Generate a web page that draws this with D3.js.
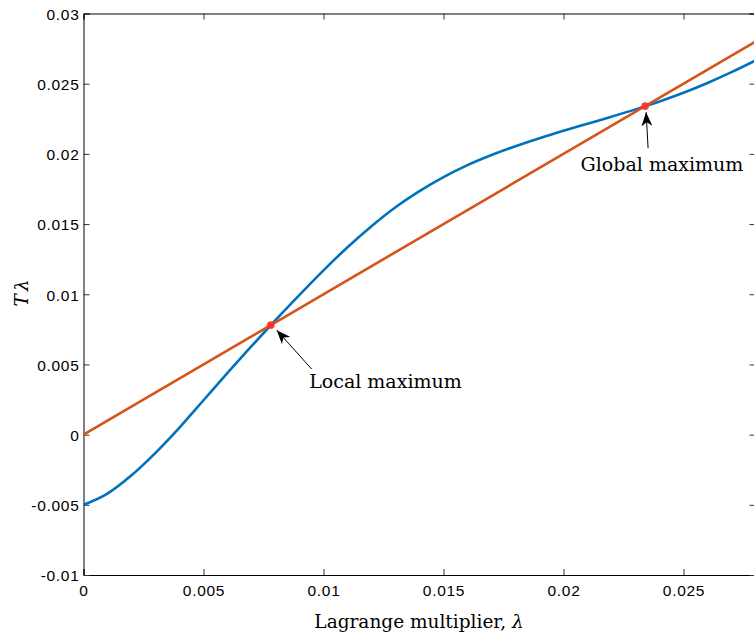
<!DOCTYPE html>
<html>
<head>
<meta charset="utf-8">
<script src="https://cdn.jsdelivr.net/npm/d3@7"></script>
<style>
  body { margin: 0; background: #fff; }
  svg { display: block; }
</style>
</head>
<body>
<div id="chart"></div>
<script>
// blue curve, sampled every 0.001
const lambdaVals = [0, 0.001, 0.002, 0.003, 0.004, 0.005, 0.006, 0.007, 0.008, 0.009,
  0.010, 0.011, 0.012, 0.013, 0.014, 0.015, 0.016, 0.017, 0.018, 0.019,
  0.020, 0.021, 0.022, 0.023, 0.024, 0.025, 0.026, 0.027, 0.028];
const tVals = [-0.00500, -0.00420, -0.00290, -0.00130, 0.00050, 0.00245, 0.00440, 0.00630, 0.00815, 0.00995,
  0.01170, 0.01335, 0.01485, 0.01620, 0.01735, 0.01835, 0.01920, 0.01992, 0.02055, 0.02112,
  0.02165, 0.02215, 0.02265, 0.02317, 0.02373, 0.02435, 0.02505, 0.02582, 0.02665];
// straight line T = lambda
const lineX = [0, 0.028];
const lineY = [0, 0.028];
// intersections
const maxNames = ["Local maximum", "Global maximum"];
const maxX = [0.0078, 0.0234];
const maxY = [0.0078, 0.0234];
const xTicks = [0, 0.005, 0.01, 0.015, 0.02, 0.025];
const yTicks = [-0.01, -0.005, 0, 0.005, 0.01, 0.015, 0.02, 0.025, 0.03];

const W = 754, H = 639;
const margin = { top: 13.5, left: 83.5 };
const width = 672, height = 561.5;

const svg = d3.select("#chart").append("svg")
  .attr("width", W).attr("height", H);

const g = svg.append("g")
  .attr("transform", "translate(" + margin.left + "," + margin.top + ")");

const x = d3.scaleLinear().domain([0, 0.028]).range([0, width]);
const y = d3.scaleLinear().domain([-0.01, 0.03]).range([height, 0]);

const tickFont = "'Liberation Sans', Arial, sans-serif";
const serif = "'DejaVu Serif', serif";

// axes, ticks inside, box all round
function styleAxis(sel) {
  sel.select(".domain").attr("stroke", "#000").attr("stroke-width", 1);
  sel.selectAll(".tick line").attr("stroke", "#333");
  sel.selectAll("text")
    .style("font-family", tickFont).style("font-size", "15.5px")
    .style("letter-spacing", "0.7px").attr("fill", "#000");
}
// plain hyphen for negatives, like the original
const fmt = d => String(+d.toFixed(3));

g.append("g").attr("transform", "translate(0," + height + ")")
  .call(d3.axisBottom(x).tickValues(xTicks).tickSize(-6).tickPadding(10).tickFormat(fmt))
  .call(styleAxis);
g.append("g")
  .call(d3.axisTop(x).tickValues(xTicks).tickSize(-6).tickFormat(""))
  .call(styleAxis);
g.append("g")
  .call(d3.axisLeft(y).tickValues(yTicks).tickSize(-6).tickPadding(4).tickFormat(fmt))
  .call(styleAxis)
  .selectAll("text").attr("dy", "0.38em");
g.append("g").attr("transform", "translate(" + width + ",0)")
  .call(d3.axisRight(y).tickValues(yTicks).tickSize(-6).tickFormat(""))
  .call(styleAxis);

// curves
const curve = d3.line().x(d => x(d[0])).y(d => y(d[1])).curve(d3.curveMonotoneX);
g.append("path")
  .datum(lambdaVals.map((v, i) => [v, tVals[i]]))
  .attr("fill", "none").attr("stroke", "#0072BD").attr("stroke-width", 2.6)
  .attr("d", curve);
g.append("path")
  .datum(lineX.map((v, i) => [v, lineY[i]]))
  .attr("fill", "none").attr("stroke", "#D95319").attr("stroke-width", 2.6)
  .attr("d", curve);

// dots
g.selectAll("circle.max")
  .data(maxX.map((v, i) => [v, maxY[i]]))
  .enter().append("circle")
  .attr("class", "max")
  .attr("cx", d => x(d[0])).attr("cy", d => y(d[1]))
  .attr("r", 3.8).attr("fill", "#ff2a2a").attr("opacity", 0.9);

// arrows
svg.append("defs").append("marker")
  .attr("id", "head").attr("viewBox", "0 0 14 11")
  .attr("refX", 14).attr("refY", 5.5)
  .attr("markerWidth", 14).attr("markerHeight", 11)
  .attr("markerUnits", "userSpaceOnUse")
  .attr("orient", "auto")
  .append("path").attr("d", "M0,0 L14,5.5 L0,11 L4,5.5 Z").attr("fill", "#000");

// arrow tails & labels, offsets in px from the point
const arrowTail = [[41, 44], [3, 42]];
const arrowTip = [[6, 5], [1, 6]];
const labelPos = [[38.5, 63], [-64.5, 65]];

maxX.forEach((v, i) => {
  const px = x(v), py = y(maxY[i]);
  g.append("line")
    .attr("x1", px + arrowTail[i][0]).attr("y1", py + arrowTail[i][1])
    .attr("x2", px + arrowTip[i][0]).attr("y2", py + arrowTip[i][1])
    .attr("stroke", "#000").attr("stroke-width", 1)
    .attr("marker-end", "url(#head)");
  g.append("text")
    .attr("x", px + labelPos[i][0]).attr("y", py + labelPos[i][1])
    .style("font-family", serif).style("font-size", "19px")
    .text(maxNames[i]);
});

// axis labels
svg.append("text")
  .attr("x", 419).attr("y", 628)
  .attr("text-anchor", "middle")
  .style("font-family", serif).style("font-size", "18.5px")
  .text("Lagrange multiplier, ")
  .append("tspan").style("font-style", "italic").text("λ");

svg.append("text")
  .attr("transform", "translate(28,293) rotate(-90)")
  .attr("text-anchor", "middle")
  .style("font-family", serif).style("font-size", "18.5px")
  .call(t => {
    t.append("tspan").style("font-style", "italic").text("T");
    t.append("tspan").attr("dx", 3).style("font-style", "italic").text("λ");
  });
</script>
</body>
</html>
